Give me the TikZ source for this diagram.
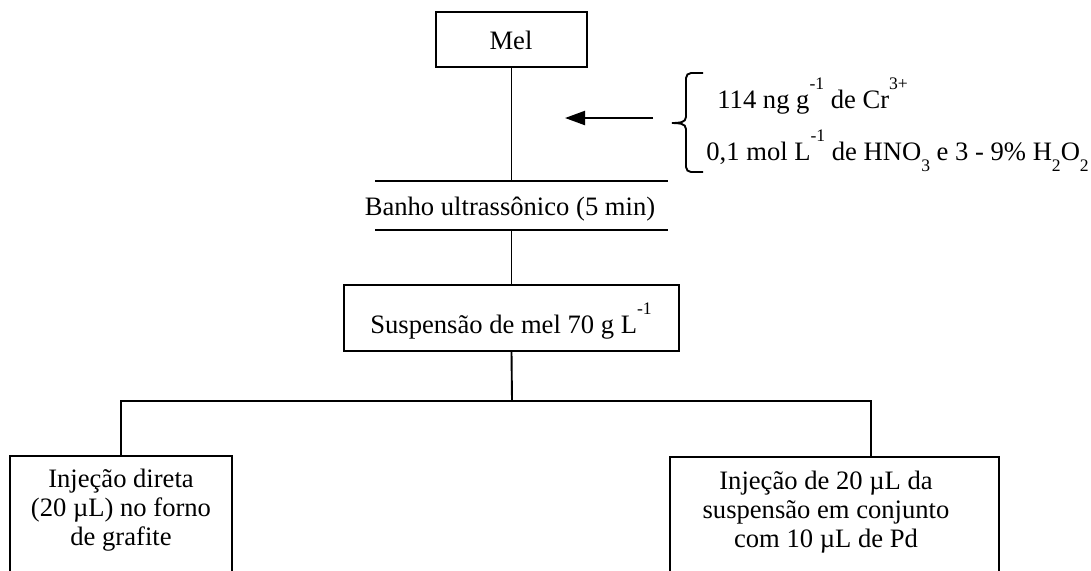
\documentclass[tikz,border=0pt]{standalone}
\usepackage{fontspec}
\setmainfont{Liberation Serif}
\usetikzlibrary{arrows.meta}
\newcommand\supx[1]{\raisebox{0.7em}{\fontsize{8.8}{9}\selectfont #1}}
\newcommand\subx[1]{\raisebox{-0.42em}{\fontsize{8.8}{9}\selectfont #1}}
\tikzset{
  px/.style={x=0.5pt,y=-0.5pt},
  ln/.style={line width=0.95pt,line cap=rect},
  boxnode/.style={draw,line width=0.95pt,inner sep=0pt},
  txt/.style={inner sep=0pt,font=\fontsize{13.3}{14.5}\selectfont,align=center},
}
\begin{document}
\begin{tikzpicture}[px]
\useasboundingbox (0,0) rectangle (1091,570);
\clip (0,0) rectangle (1091,570);
% Mel
\node[boxnode,minimum width=75.5pt,minimum height=27.5pt] (mel) at (511.5,39.5) {};
\node[txt] (melt) at (511,40) {Mel};
% Banho
\node[inner sep=0pt,minimum width=145.5pt,minimum height=24.5pt] (banho) at (521.5,205.5) {};
\draw[ln] (banho.north west) -- (banho.north east);
\draw[ln] (banho.south west) -- (banho.south east);
\node[txt] (banhot) at (510,209) {Banho ultrassônico (5 min)};
% Suspension
\node[boxnode,minimum width=167.5pt,minimum height=33pt] (susp) at (511.5,318) {};
\node[txt,anchor=base] (suspt) at (511,333) {Suspensão de mel 70 g L\supx{-1}};
% bottom boxes
\node[boxnode,minimum width=111pt,minimum height=80pt,anchor=north] (inj1) at (121,455) {};
\node[txt,font=\fontsize{13.3}{14.6}\selectfont] (inj1t) at (121,510) {Injeção direta\\(20 µL) no forno\\de grafite};
\node[boxnode,minimum width=164.5pt,minimum height=80pt,anchor=north] (inj2) at (834.5,456) {};
\node[txt,font=\fontsize{13.3}{14.6}\selectfont] (inj2t) at (826,512) {Injeção de 20 µL da\\suspensão em conjunto\\com 10 µL de Pd};
% connectors
\coordinate (jn) at (512,401);
\coordinate (jl) at (121,401);
\coordinate (jr) at (871,401);
\draw[ln] (mel.south) -- (mel.south |- banho.north);
\draw[ln] (mel.south |- banho.south) -- (susp.north);
\draw[ln] (susp.south) -- (jn);
\draw[ln] (jl) -- (jr);
\draw[ln] (jl) -- (inj1.north);
\draw[ln] (jr) -- (jr |- inj2.north);
% reagents
\coordinate (atail) at (653,118);
\coordinate (ahead) at (565,118);
\draw[line width=1.1pt,-{Triangle[length=10pt,width=7pt]}] (atail) -- (ahead);
\draw[line width=0.95pt] (703,73) -- (691,73) to[out=180,in=90] (686,78) -- (686,117) to[out=-90,in=0] (672,123)
  to[out=0,in=90] (686,129) -- (686,167) to[out=-90,in=180] (691,172) -- (703,172);
\node[txt,anchor=base west] (r1) at (717,108) {114 ng g\supx{-1} de Cr\supx{3+}};
\node[txt,anchor=base west] (r2) at (706,160) {0,1 mol L\supx{-1} de HNO\subx{3} e 3 - 9\% H\subx{2}O\subx{2}};
\end{tikzpicture}
\end{document}
